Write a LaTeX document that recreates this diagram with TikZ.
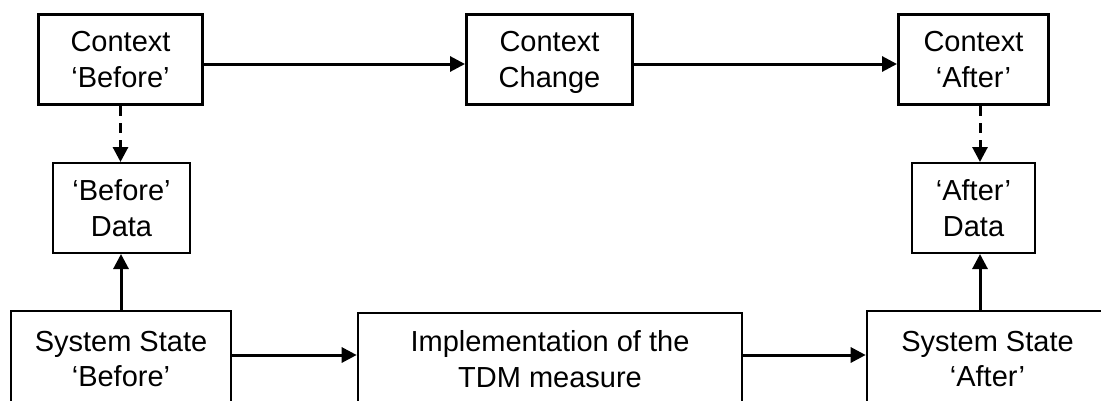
\documentclass[tikz,border=0pt]{standalone}
\usepackage{fontspec}
\setmainfont{Liberation Sans}
\usetikzlibrary{arrows.meta}

\tikzset{
  box/.style={draw=black, fill=white, inner sep=0pt, align=center,
    font=\fontsize{29}{35.5}\selectfont},
  ctxbox/.style={box, line width=3pt, minimum height=90pt},
  databox/.style={box, line width=2pt, minimum height=90pt},
  statebox/.style={box, line width=2.6pt},
  flow/.style={line width=3pt, -{Triangle[length=15pt,width=15pt]}},
  link/.style={flow, dash pattern=on 10pt off 7pt},
}

\begin{document}
\begin{tikzpicture}[x=1pt, y=-1pt]
  \clip (0,0) rectangle (1101,400);
  \useasboundingbox (0,0) rectangle (1101,400);

  % context row
  \node[ctxbox, minimum width=164pt] (ctxB) at (120.5,59.5) {Context\\‘Before’};
  \node[ctxbox, minimum width=166pt] (ctxC) at (549.5,59.5) {Context\\Chan\smash{g}e};
  \node[ctxbox, minimum width=150pt] (ctxA) at (973.5,59.5) {Context\\‘After’};

  % data row
  \node[databox, minimum width=137pt] (datB) at (121.5,208) {‘Before’\\Data};
  \node[databox, minimum width=123pt] (datA) at (973.5,208) {‘After’\\Data};

  % system row
  \node[statebox, minimum width=220pt, minimum height=96pt] (ssB) at (121,359) {System State\\‘Before’};
  \node[statebox, minimum width=384pt, minimum height=92pt] (impl) at (550,359) {Implementation of the\\TDM measure};
  \node[statebox, minimum width=241pt, minimum height=96pt] (ssA) at (987.5,359) {System State\\‘After’};

  % context flow
  \draw[flow] ([yshift=-4.5pt]ctxB.east) -- ([yshift=-4.5pt]ctxB.east -| ctxC.west);
  \draw[flow] ([yshift=-4.5pt]ctxC.east) -- ([yshift=-4.5pt]ctxC.east -| ctxA.west);

  % context to data
  \draw[link] (ctxB.south) -- (ctxB.south |- datB.north);
  \draw[link] ([xshift=6.5pt]ctxA.south) -- ([xshift=6.5pt]ctxA.south |- datA.north);

  % state to data
  \draw[flow] (ssB.north) -- (ssB.north |- datB.south);
  \draw[flow] ([xshift=-7.5pt]ssA.north) -- ([xshift=-7.5pt]ssA.north |- datA.south);

  % system flow
  \draw[flow] ([yshift=4pt]ssB.east) -- ([yshift=4pt]ssB.east -| impl.west);
  \draw[flow] ([yshift=4pt]impl.east) -- ([yshift=4pt]impl.east -| ssA.west);
\end{tikzpicture}
\end{document}
